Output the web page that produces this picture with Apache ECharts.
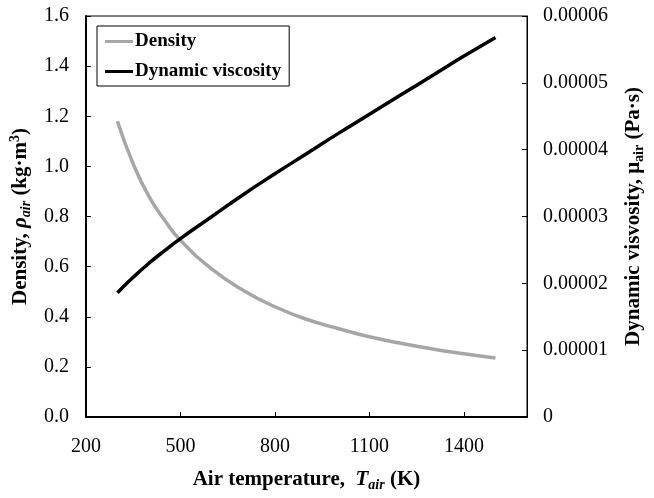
<!DOCTYPE html>
<html>
<head>
<meta charset="utf-8">
<script src="https://cdn.jsdelivr.net/npm/echarts@6/dist/echarts.min.js"></script>
<style>html,body{margin:0;padding:0;background:#fff;}#c{width:654px;height:498px;}</style>
</head>
<body>
<div id="c"></div>
<script>
var temperatures = [300, 350, 400, 450, 500, 600, 700, 800, 900, 1000, 1100, 1200, 1300, 1400, 1500];
var density = [1.18, 1.01, 0.88, 0.785, 0.705, 0.59, 0.505, 0.44, 0.39, 0.353, 0.32, 0.294, 0.271, 0.252, 0.235];
var viscosity = [0.0000186, 0.0000209, 0.0000230, 0.0000249, 0.0000267, 0.0000300, 0.0000333, 0.0000364, 0.0000394, 0.0000424, 0.0000453, 0.0000482, 0.0000511, 0.0000540, 0.0000568];
var xTicks = [200, 500, 800, 1100, 1400];

var F = '"Liberation Serif", "Times New Roman", serif';
var chart = echarts.init(document.getElementById('c'), null, {renderer: 'canvas'});
function pairs(ys) { return temperatures.map(function (t, i) { return [t, ys[i]]; }); }
var richBase = {
  b: {fontFamily: F, fontWeight: 'bold', fontSize: 21, color: '#000', lineHeight: 25},
  i: {fontFamily: F, fontWeight: 'bold', fontStyle: 'italic', fontSize: 21, color: '#000', lineHeight: 25},
  subi: {fontFamily: F, fontWeight: 'bold', fontStyle: 'italic', fontSize: 14, color: '#000', lineHeight: 17, verticalAlign: 'bottom'},
  sub: {fontFamily: F, fontWeight: 'bold', fontSize: 14, color: '#000', lineHeight: 17, verticalAlign: 'bottom'},
  sup: {fontFamily: F, fontWeight: 'bold', fontSize: 14, color: '#000', lineHeight: 17, verticalAlign: 'top'}
};
chart.setOption({
  animation: false,
  backgroundColor: '#fff',
  grid: {left: 85, right: 127, top: 16, bottom: 81, show: true, borderColor: '#000', borderWidth: 1, backgroundColor: 'transparent'},
  legend: {
    left: 97, top: 26, orient: 'vertical',
    borderColor: '#000', borderWidth: 1, borderRadius: 0,
    padding: [6, 8, 5, 8], itemGap: 11, itemWidth: 28, itemHeight: 3,
    textStyle: {fontFamily: F, fontWeight: 'bold', fontSize: 19, color: '#000', padding: [0, 0, 0, -3]},
    data: [{name: 'Density', icon: 'rect'}, {name: 'Dynamic viscosity', icon: 'rect'}]
  },
  xAxis: {
    type: 'value', min: 200, max: 1600, interval: 300,
    name: '{b|Air temperature,  }{i|T}{subi|air}{b| (K)}',
    nameLocation: 'middle', nameGap: 50,
    nameTextStyle: {rich: richBase},
    axisLine: {lineStyle: {color: '#000', width: 2}},
    axisTick: {inside: true, length: 5, lineStyle: {color: '#000', width: 1}},
    axisLabel: {showMaxLabel: false, fontFamily: F, fontSize: 20, color: '#000', margin: 20,
      formatter: function (v) { return xTicks.indexOf(v) >= 0 ? String(v) : ''; }},
    splitLine: {show: false}
  },
  yAxis: [{
    type: 'value', min: 0, max: 1.6, interval: 0.2, position: 'left',
    name: '{b|Density, }{i|ρ}{subi|air}{b| (kg·m}{sup|3}{b|)}',
    nameLocation: 'middle', nameRotate: 90, nameGap: 50,
    nameTextStyle: {rich: richBase},
    axisLine: {show: true, lineStyle: {color: '#000', width: 2}},
    axisTick: {show: true, inside: true, length: 5, lineStyle: {color: '#000', width: 1}},
    axisLabel: {fontFamily: F, fontSize: 20, color: '#000', margin: 17,
      formatter: function (v) { return v.toFixed(1); }},
    splitLine: {show: false}
  }, {
    type: 'value', min: 0, max: 0.00006, interval: 0.00001, position: 'right',
    name: '{b|Dynamic visvosity, }{b|μ}{sub|air}{b| (Pa·s)}',
    nameLocation: 'middle', nameRotate: 90, nameGap: 94,
    nameTextStyle: {rich: richBase},
    axisLine: {show: true, lineStyle: {color: '#000', width: 1}},
    axisTick: {show: true, inside: true, length: 5, lineStyle: {color: '#000', width: 1}},
    axisLabel: {fontFamily: F, fontSize: 20, color: '#000', margin: 16,
      formatter: function (v) { return v === 0 ? '0' : v.toFixed(5); }},
    splitLine: {show: false}
  }],
  series: [{
    name: 'Density', type: 'line', yAxisIndex: 0, data: pairs(density),
    smooth: true, symbol: 'none', lineStyle: {color: '#a6a6a6', width: 3.5}, itemStyle: {color: '#a6a6a6'}
  }, {
    name: 'Dynamic viscosity', type: 'line', yAxisIndex: 1, data: pairs(viscosity),
    smooth: true, symbol: 'none', lineStyle: {color: '#000', width: 3.5}, itemStyle: {color: '#000'}
  }]
});
</script>
</body>
</html>
